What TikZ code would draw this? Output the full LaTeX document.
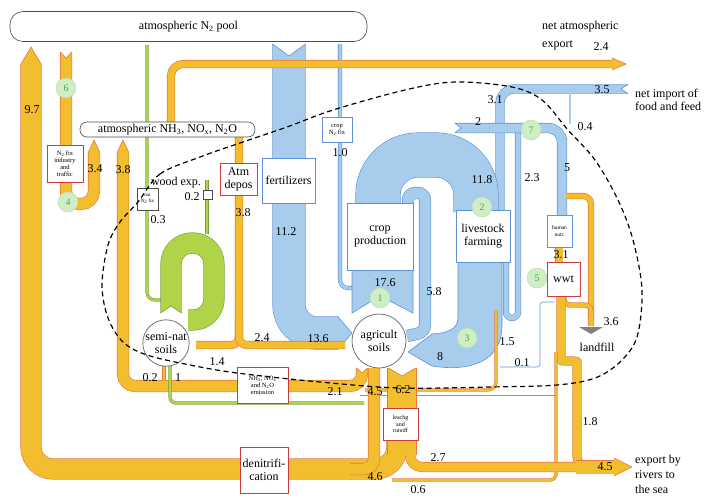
\documentclass[tikz,border=0pt]{standalone}
\usepackage{fontspec}
\setmainfont{Liberation Serif}
\usepackage{tikz}
\definecolor{ofill}{RGB}{243,189,48}
\definecolor{oline}{RGB}{228,120,62}
\definecolor{bfill}{RGB}{168,205,236}
\definecolor{bline}{RGB}{95,145,215}
\definecolor{gfill}{RGB}{176,212,72}
\definecolor{gline}{RGB}{118,158,62}
\definecolor{boxred}{RGB}{200,62,58}
\definecolor{cfill}{RGB}{208,238,198}
\definecolor{cline}{RGB}{178,222,168}
\definecolor{ctext}{RGB}{72,168,72}

\begin{document}
\begin{tikzpicture}[x=1pt, y=-1pt, font=\fontsize{12}{13}\selectfont,
  oband/.style={draw=oline, line width=0.6pt, double=ofill, double distance=#1},
  bband/.style={draw=bline, line width=0.6pt, double=bfill, double distance=#1},
  gband/.style={draw=gline, line width=0.6pt, double=gfill, double distance=#1},
  ohead/.style={fill=ofill, draw=oline, line width=0.6pt},
  bhead/.style={fill=bfill, draw=bline, line width=0.6pt},
  pool/.style={draw=black!70, fill=white, rounded corners=#1, line width=0.6pt},
  fbox/.style={draw=#1, fill=white, line width=0.6pt, align=center, inner sep=0pt},
  smalltext/.style={font=\fontsize{6.5}{7}\selectfont},
  soil/.style={circle, draw=black!55, fill=white, line width=0.8pt, align=center, inner sep=0pt},
  numc/.style={circle, fill=cfill, draw=cline, text=ctext, minimum size=20pt, inner sep=0pt, font=\fontsize{10}{10}\selectfont},
  val/.style={inner sep=1pt}]
\useasboundingbox (0,0) rectangle (715,496);

% blue flows
\draw[bband=8, rounded corners=14] (628,89) -- (500,89) -- (500,212);
\draw[bband=32, rounded corners=28] (289,44) -- (289,333) -- (338,333);
\filldraw[bhead] (337.5,316.4) -- (352,333) -- (337.5,349.6);
\draw[bband=3, rounded corners=8] (340,44) -- (340,288) -- (355,288);
\draw[bband=44, rounded corners=40] (378,206) -- (378,155) -- (476,155) -- (476,212);
\filldraw[bhead] (352,269) -- (352,313) -- (380,296) -- (413,313) -- (413,269);
\draw[bband=11, rounded corners=7] (408,206) -- (408,193) -- (425,193) -- (425,332) -- (407,336);
\draw[bband=5, rounded corners=6] (518,132) -- (518,318) -- (506,318) -- (506,261);
\filldraw[bhead] (458,261) -- (458,318) .. controls (458,330) and (446,333) .. (432,334) -- (408,352) -- (432,366) .. controls (470,372) and (502,362) .. (502,325) -- (502,261);
\draw[bband=9, rounded corners=14] (455,128) -- (562,128) -- (562,216);
\draw[bband=1.5] (570,93) -- (570,124);
\draw[bline, line width=0.6pt, rounded corners=3] (554,302) -- (540,302) -- (540,367) -- (500,367);
\fill[white] (272,43) -- (289,56) -- (306,43) -- cycle;
\draw[bline, line width=0.6pt] (272.4,44) -- (289,56) -- (305.6,44);
\fill[white] (630,84) -- (621,89) -- (630,94) -- cycle;
\draw[bline, line width=0.6pt] (628,84.4) -- (621,89) -- (628,93.6);
\fill[white] (454,123) -- (461,128) -- (454,133) -- cycle;
\draw[bline, line width=0.6pt] (455,123.4) -- (461,128) -- (455,132.6);

% orange flows
\draw[oband=20, rounded corners=22] (397,430) -- (397,469) -- (31,469) -- (31,64);
\filldraw[ohead] (20.7,64.5) -- (31,47) -- (41.3,64.5);
\draw[oband=11, rounded corners=13] (66,52) -- (66,204) -- (94,204) -- (94,152);
\filldraw[ohead] (88.2,152.5) -- (94,140) -- (99.8,152.5);
\draw[oband=11, rounded corners=12] (123,152) -- (123,386) -- (362,386) -- (362,368);
\filldraw[ohead] (117.2,152.5) -- (123,140) -- (128.8,152.5);
\draw[oband=7, rounded corners=8] (239,137) -- (239,345) -- (196,345);
\draw[oband=7, rounded corners=8] (239,320) -- (239,345) -- (345,345);
\draw[oband=7, rounded corners=12] (171,123) -- (171,64) -- (613,64);
\filldraw[ohead] (612,58) -- (626,64) -- (612,70);
\draw[oband=5, rounded corners=8] (566,196) -- (591,196) -- (591,326);
\draw[oband=4, rounded corners=6] (564,296) -- (564,305) -- (591,305) -- (591,318);
\fill[gray] (579,327) -- (603,327) -- (591,334) -- cycle;
\draw[oband=7] (559,247) -- (559,262);
\draw[oband=8, rounded corners=10] (561,296) -- (561,350) .. controls (561,362) and (577,360) .. (577,372) -- (577,467) -- (600,467);
\draw[oband=2, rounded corners=6] (556,352) -- (556,480) -- (392,480);
\draw[oline, line width=0.6pt] (360,395) -- (556,395);
\draw[oband=2, rounded corners=8] (496,310) -- (496,390) -- (365,390);
\draw[oband=9, rounded corners=12] (410,440) -- (410,467) -- (600,467);
\draw[oband=13] (576,467) -- (614,467);
\filldraw[ohead] (614,458) -- (632,467) -- (614,476);
\draw[oband=11, rounded corners=10] (374,368) -- (374,469) -- (350,469);
\draw[oband=28] (402,368) -- (402,455);
\draw[oband=2] (164,366) -- (164,381);
\fill[white] (59.5,51) -- (66,58) -- (72.5,51) -- cycle;
\draw[oline, line width=0.6pt] (60.4,52) -- (66,58) -- (71.6,52);
\fill[white] (356,367) -- (362,373) -- (368,367) -- cycle;
\draw[oline, line width=0.6pt] (356.4,368) -- (362,373) -- (367.6,368);
\fill[white] (387,367) -- (402,376) -- (417,367) -- cycle;
\draw[oline, line width=0.6pt] (388.4,368) -- (402,376) -- (415.6,368);

% green flows
\draw[gband=2, rounded corners=8] (147,45) -- (147,300) -- (163,300);
\draw[gband=20, rounded corners=21] (171,313) -- (171,243) -- (214,243) -- (214,320) -- (188,320);
\draw[gband=2] (207,180) -- (207,234);
\draw[gband=2, rounded corners=6] (170,366) -- (170,403) -- (364,403);
\fill[white] (160,314) -- (171,306) -- (182,314) -- cycle;
\draw[gline, line width=0.6pt] (160.4,313) -- (171,306) -- (181.6,313);

% boxes
\node[pool=13, minimum width=357pt, minimum height=30pt] (n2pool) at (188.5,26.5) {atmospheric N\textsubscript{2} pool};
\node[pool=7, minimum width=175pt, minimum height=15pt, inner sep=0pt] (nh3) at (167.5,129.5) {atmospheric NH\textsubscript{3}, NO\textsubscript{x}, N\textsubscript{2}O};
\node[fbox=boxred, minimum width=36pt, minimum height=37pt, smalltext] (indfix) at (65,163.5) {N\textsubscript{2} fix\\industry\\and\\traffic};
\node[fbox=black!70, minimum width=21pt, minimum height=22pt, font=\fontsize{5}{5.5}\selectfont] (natfix) at (147.5,199) {nat\\N\textsubscript{2} fix};
\node[fbox=black!70, minimum size=9pt] (woodsq) at (207.5,195) {};
\node[fbox=boxred, minimum width=37pt, minimum height=32pt] (atmdep) at (238.5,179) {Atm\\depos};
\node[fbox=bline, minimum width=53pt, minimum height=45pt] (fert) at (288.5,180.5) {fertilizers};
\node[fbox=bline, minimum width=30pt, minimum height=25pt, smalltext] (cropfix) at (337,129.5) {crop\\N\textsubscript{2} fix};
\node[fbox=bline, minimum width=66pt, minimum height=67pt] (crop) at (380,236.5) {crop\\production};
\node[fbox=bline, minimum width=54pt, minimum height=52pt] (live) at (483,236) {livestock\\farming};
\node[fbox=bline, minimum width=25pt, minimum height=32pt, font=\fontsize{5.5}{6.5}\selectfont] (human) at (559.5,231) {human\\nutr.};
\node[fbox=boxred, minimum width=33pt, minimum height=34pt] (wwt) at (563.5,279) {wwt};
\node[fbox=boxred, minimum width=51pt, minimum height=36pt, smalltext] (emis) at (262.5,385) {NH\textsubscript{3}, NO\textsubscript{x}\\and N\textsubscript{2}O\\emission};
\node[fbox=boxred, minimum width=35pt, minimum height=32pt, font=\fontsize{6}{6.5}\selectfont] (leach) at (400.5,424) {leachg\\and\\runoff};
\node[fbox=boxred, minimum width=48pt, minimum height=46pt] (denit) at (264,470) {denitrifi-\\cation};
\node[soil, minimum size=46pt] (semi) at (166,343) {semi-nat\\soils};
\node[soil, minimum size=54pt] (agri) at (379,341) {agricult\\soils};

% system boundary
\draw[line width=1.2pt, dash pattern=on 5pt off 3.5pt] plot[smooth cycle, tension=0.55] coordinates {
  (138,202) (160,174) (200,157) (240,143) (287,127) (333,110) (405,90) (455,82)
  (512,87) (542,100) (568,130) (595,160) (618,200) (633,240) (642,290) (637,337)
  (620,362) (595,378) (557,385) (490,387) (400,388) (320,382) (237,373) (190,365)
  (147,355) (123,342) (108,318) (102,285) (108,245) (120,222)};

% numbered sub-systems
\node[numc] (c6) at (66,88) {6};
\node[numc] (c4) at (68,202) {4};
\node[numc] (c1) at (380,298) {1};
\node[numc] (c2) at (482,207) {2};
\node[numc] (c3) at (467,338) {3};
\node[numc] (c5) at (537,278) {5};
\node[numc] (c7) at (531,130) {7};

% flow values
\node[val] (v97) at (32,110) {9.7};
\node[val] (v34) at (95,169) {3.4};
\node[val] (v38a) at (123,170) {3.8};
\node[val] (wood) at (176,183) {wood exp.};
\node[val] (v02a) at (192,197) {0.2};
\node[val] (v03) at (158,220) {0.3};
\node[val] (v38b) at (243,213) {3.8};
\node[val] (v112) at (286,232) {11.2};
\node[val] (v10) at (340,153) {1.0};
\node[val] (v31a) at (495,100) {3.1};
\node[val] (v35) at (602,90) {3.5};
\node[val] (v2) at (478,122) {2};
\node[val] (v04) at (585,127) {0.4};
\node[val] (v118) at (482,180) {11.8};
\node[val] (v23) at (532,178) {2.3};
\node[val] (v5) at (567,168) {5};
\node[val] (v176) at (385,283) {17.6};
\node[val] (v58) at (434,292) {5.8};
\node[val] (v136) at (318,339) {13.6};
\node[val] (v24a) at (262,338) {2.4};
\node[val] (v14) at (217,362) {1.4};
\node[val] (v02b) at (150,378) {0.2};
\node[val] (v1) at (178,378) {1};
\node[val] (v21) at (335,392) {2.1};
\node[val] (v45a) at (375,392) {4.5};
\node[val] (v62) at (403,390) {6.2};
\node[val] (v8) at (440,357) {8};
\node[val] (v15) at (507,342) {1.5};
\node[val] (v01) at (522,363) {0.1};
\node[val] (v31b) at (561,255) {3.1};
\node[val] (v36) at (611,322) {3.6};
\node[val] (landfill) at (597,347) {landfill};
\node[val] (v18) at (590,422) {1.8};
\node[val] (v27) at (438,458) {2.7};
\node[val] (v45b) at (605,467) {4.5};
\node[val] (v46) at (375,477) {4.6};
\node[val] (v06) at (418,490) {0.6};
\node[val] (v24b) at (601,47) {2.4};
\node[val, anchor=west] (netexp) at (541,27) {net atmospheric};
\node[val, anchor=west] (exptxt) at (541,45) {export};
\node[val, anchor=west, align=left] (netimp) at (634,100) {net import of\\food and feed};
\node[val, anchor=north west, align=left, font=\fontsize{12}{15}\selectfont] (rivers) at (634,454) {export by\\rivers to\\the sea};
\end{tikzpicture}
\end{document}
